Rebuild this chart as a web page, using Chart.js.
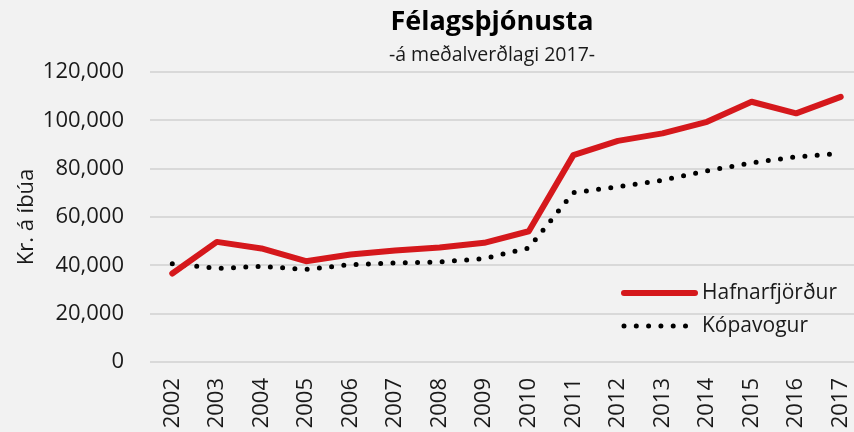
<!DOCTYPE html>
<html>
<head>
<meta charset="utf-8">
<script src="https://cdn.jsdelivr.net/npm/chart.js@4/dist/chart.umd.min.js"></script>
<style>
    html, body { margin: 0; padding: 0; background: #f2f2f2; overflow: hidden; }
    #wrap { width: 863px; height: 432px; position: relative; }
</style>
</head>
<body>
<div id="wrap"><canvas id="chart"></canvas></div>
<script>
// Data
const years = ['2002', '2003', '2004', '2005', '2006', '2007', '2008', '2009',
               '2010', '2011', '2012', '2013', '2014', '2015', '2016', '2017'];
const hafnarfjordur = [36600, 49700, 47000, 41700, 44500, 46100, 47400, 49300,
                       54100, 85600, 91500, 94600, 99400, 107700, 102900, 109700];
const kopavogur = [40700, 38700, 39600, 38300, 40300, 41000, 41400, 42800,
                   47200, 70100, 72500, 75200, 79100, 82400, 84900, 86300];
const yTicks = [0, 20000, 40000, 60000, 80000, 100000, 120000];

const titleText = 'Félagsþjónusta';
const subtitleText = '-á meðalverðlagi 2017-';
const yAxisTitle = 'Kr. á íbúa';

const fontFamily = '"Open Sans", "Noto Sans", sans-serif';
const textColor = '#1a1a1a';

// Title + subtitle drawn above the plot
const titlePlugin = {
    id: 'titles',
    afterDraw(chart) {
        const ctx = chart.ctx;
        ctx.save();
        ctx.fillStyle = '#000';
        ctx.textAlign = 'center';
        ctx.textBaseline = 'middle';
        ctx.font = 'bold 27px ' + fontFamily;
        ctx.fillText(titleText, 492, 22);
        ctx.fillStyle = textColor;
        ctx.font = '19.5px ' + fontFamily;
        ctx.fillText(subtitleText, 492, 55);
        ctx.restore();
    }
};

// Legend inside the plot area, lower right
const legendPlugin = {
    id: 'insideLegend',
    afterDraw(chart) {
        const ctx = chart.ctx;
        const x0 = 624, x1 = 695, tx = 702;
        const rows = [293, 326];
        ctx.save();
        chart.data.datasets.forEach((ds, i) => {
            const y = rows[i];
            ctx.beginPath();
            ctx.strokeStyle = ds.borderColor;
            ctx.lineWidth = ds.borderWidth;
            ctx.lineCap = 'round';
            ctx.setLineDash(ds.borderDash || []);
            ctx.moveTo(x0, y);
            ctx.lineTo(x1, y);
            ctx.stroke();
            ctx.setLineDash([]);
            ctx.fillStyle = textColor;
            ctx.font = '21px ' + fontFamily;
            ctx.textAlign = 'left';
            ctx.textBaseline = 'middle';
            ctx.fillText(ds.label, tx, y);
        });
        ctx.restore();
    }
};

const ctx = document.getElementById('chart').getContext('2d');
const chart = new Chart(ctx, {
    type: 'line',
    data: {
        labels: years,
        datasets: [{
            label: 'Hafnarfjörður',
            data: hafnarfjordur,
            borderColor: '#d5181c',
            borderWidth: 6,
            borderCapStyle: 'round',
            borderJoinStyle: 'round',
            pointRadius: 0,
            tension: 0
        }, {
            label: 'Kópavogur',
            data: kopavogur,
            borderColor: '#000000',
            borderWidth: 5,
            borderDash: [0, 12.3],
            borderCapStyle: 'round',
            pointRadius: 0,
            tension: 0
        }]
    },
    options: {
        responsive: true,
        maintainAspectRatio: false,
        animation: false,
        locale: 'en-US',
        layout: { padding: { top: 72, left: 0, right: 0, bottom: 0 } },
        plugins: {
            legend: { display: false },
            tooltip: { enabled: false }
        },
        scales: {
            x: {
                offset: true,
                grid: { display: false, drawTicks: false },
                border: { display: false },
                ticks: {
                    color: textColor,
                    font: { family: fontFamily, size: 22 },
                    minRotation: 90,
                    maxRotation: 90,
                    padding: 16,
                    autoSkip: false
                },
                afterFit(scale) {
                    scale.height = 70;
                    scale.paddingLeft = 0;
                    scale.paddingRight = 0;
                }
            },
            y: {
                min: 0,
                max: 120000,
                afterBuildTicks(scale) { scale.ticks = yTicks.map(v => ({ value: v })); },
                grid: { color: '#d9d9d9', lineWidth: 2, drawTicks: false },
                border: { display: false },
                ticks: {
                    color: textColor,
                    font: { family: fontFamily, size: 22 },
                    padding: 26
                },
                title: {
                    display: true,
                    text: yAxisTitle,
                    color: textColor,
                    font: { family: fontFamily, size: 22 },
                    padding: { top: 14, bottom: 0 }
                },
                afterFit(scale) { scale.width = 150; }
            }
        }
    },
    plugins: [titlePlugin, legendPlugin]
});
</script>
</body>
</html>
